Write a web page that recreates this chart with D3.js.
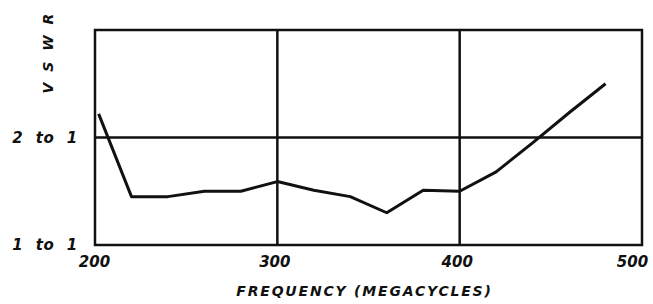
<!DOCTYPE html>
<html lang="en">

<head>
    <meta charset="UTF-8">
    <title>VSWR</title>
    <style>
        body { margin: 0; background: #fff; }
        text { font-family: "DejaVu Sans", sans-serif; font-weight: bold; font-style: italic; fill: #111; white-space: pre; }
    </style>
</head>

<body>
    <svg width="653" height="304"></svg>
    <script src="https://d3js.org/d3.v7.min.js"></script>
    <script>

        // frequency (Mc) and VSWR
        let freqs = [202, 220, 240, 260, 280, 300, 320, 340, 360, 380, 400, 420, 440, 460, 480];
        let vswr = [2.22, 1.45, 1.45, 1.50, 1.50, 1.59, 1.51, 1.45, 1.30, 1.51, 1.50, 1.68, 1.95, 2.23, 2.50];
        let xTicks = [200, 300, 400, 500];
        let yTicks = [1, 2];
        let yTickLabels = ["1  to  1", "2  to  1"];

        let svg = d3.select("svg"),
            margin = { top: 30, right: 11, bottom: 59, left: 95 },
            width = +svg.attr("width") - margin.left - margin.right,
            height = +svg.attr("height") - margin.top - margin.bottom,
            g = svg.append("g").attr("transform", "translate(" + margin.left + "," + margin.top + ")");

        let x = d3.scaleLinear().domain([200, 500]).range([0, width]);
        let y = d3.scaleLinear().domain([1, 3]).range([height, 0]);

        // grid lines
        g.selectAll(".vgrid")
            .data([300, 400])
            .enter().append("line")
            .attr("x1", d => x(d)).attr("x2", d => x(d))
            .attr("y1", 0).attr("y2", height)
            .attr("stroke", "#111").attr("stroke-width", 2.5);

        g.append("line")
            .attr("x1", 0).attr("x2", width)
            .attr("y1", y(2)).attr("y2", y(2))
            .attr("stroke", "#111").attr("stroke-width", 2.5);

        g.append("rect")
            .attr("width", width).attr("height", height)
            .attr("fill", "none").attr("stroke", "#111").attr("stroke-width", 2.5);

        // axes (labels only)
        let xAxis = g.append("g")
            .attr("transform", "translate(0," + height + ")")
            .call(d3.axisBottom(x).tickValues(xTicks).tickSize(0).tickPadding(11));
        xAxis.select(".domain").remove();
        xAxis.selectAll("text")
            .style("font-family", "DejaVu Sans").style("font-size", "15px")
            .attr("fill", "#111")
            .attr("dx", d => d === 500 ? "-10" : d === 200 ? "-1" : "-3");

        let yAxis = g.append("g")
            .call(d3.axisLeft(y).tickValues(yTicks).tickSize(0).tickPadding(17)
                .tickFormat((d, i) => yTickLabels[i]));
        yAxis.select(".domain").remove();
        yAxis.selectAll("text")
            .style("font-family", "DejaVu Sans").style("font-size", "15px")
            .style("letter-spacing", "0.8px")
            .attr("fill", "#111");

        g.append("text")
            .attr("x", width / 2 - 4)
            .attr("y", height + 51)
            .attr("text-anchor", "middle")
            .style("font-size", "14px")
            .style("letter-spacing", "1.8px")
            .text("FREQUENCY (MEGACYCLES)");

        svg.append("text")
            .attr("transform", "translate(53,52) rotate(-90)")
            .attr("text-anchor", "middle")
            .style("font-size", "14px")
            .style("letter-spacing", "3px")
            .text("V S W R");

        let line = d3.line()
            .x((d, i) => x(freqs[i]))
            .y(d => y(d));

        g.append("path")
            .datum(vswr)
            .attr("fill", "none")
            .attr("stroke", "#111")
            .attr("stroke-width", 3)
            .attr("stroke-linejoin", "round")
            .attr("d", line);

    </script>
</body>

</html>
